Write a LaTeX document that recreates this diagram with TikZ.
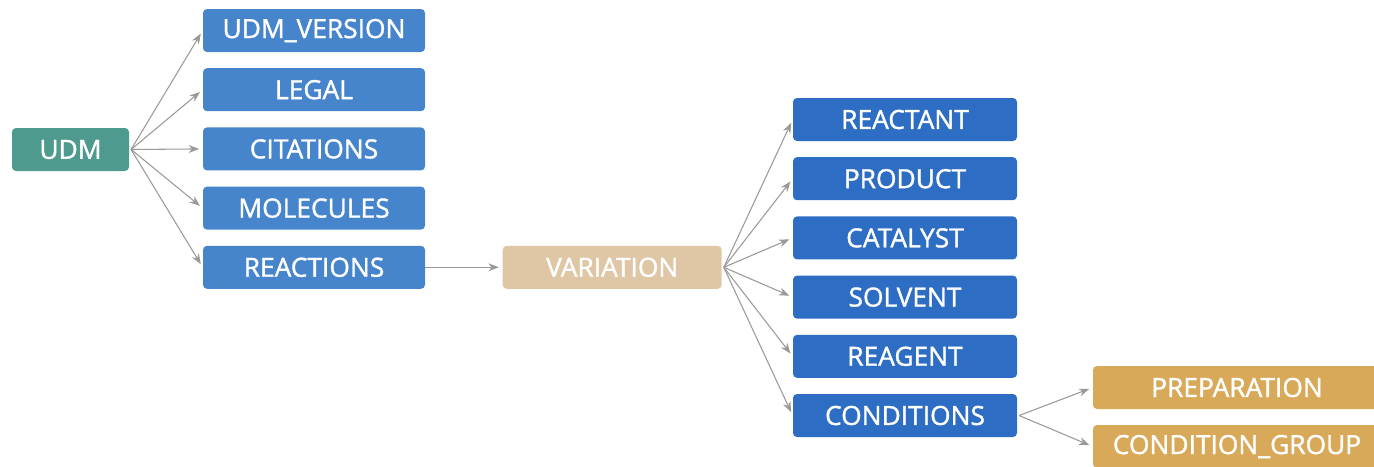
\documentclass[tikz,border=0pt]{standalone}
\usepackage{fontspec}
\setmainfont{Open Sans}
\newfontfamily\boxfont[FakeBold=1.3]{Open Sans}
\usetikzlibrary{arrows.meta, positioning}
\definecolor{udmteal}{RGB}{78,154,142}
\definecolor{fieldblue}{RGB}{70,133,203}
\definecolor{varblue}{RGB}{45,109,195}
\definecolor{vartan}{RGB}{223,199,166}
\definecolor{condgold}{RGB}{217,169,90}
\tikzstyle{box} = [
  rectangle,
  rounded corners=2.3pt,
  minimum height=0.86cm,
  text centered,
  inner sep=0,
  text=white,
  font=\boxfont\fontsize{15}{17}\selectfont
]
\tikzstyle{root} = [
  box,
  minimum width=2.34cm,
  fill=udmteal
]
\tikzstyle{field} = [
  box,
  minimum width=4.44cm,
  fill=fieldblue
]
\tikzstyle{variation} = [
  box,
  minimum width=4.38cm,
  fill=vartan
]
\tikzstyle{part} = [
  box,
  minimum width=4.48cm,
  fill=varblue
]
\tikzstyle{cond} = [
  box,
  minimum width=5.76cm,
  fill=condgold
]
\tikzstyle{arrow} = [
  line width=0.6pt,
  draw=black!40,
  -{Stealth[length=6pt,width=4.5pt]},
  shorten >=2pt
]

\begin{document}
\begin{tikzpicture}[node distance=0.31cm]

    \useasboundingbox (0,0) rectangle (27.48,-9.32);

    \node (udm) [root] at (1.41,-2.99) {UDM};

    \node (version) [field] at (6.28,-0.61) {UDM\_VERSION};
    \node (legal) [field, below=of version] {LEGAL};
    \node (citations) [field, below=of legal] {CITATIONS};
    \node (molecules) [field, below=of citations] {MOLECULES};
    \node (reactions) [field, below=of molecules] {REACTIONS};

    \node (var) [variation, right=1.54cm of reactions] {VARIATION};

    \node (reactant) [part] at (18.10,-2.39) {REACTANT};
    \node (product) [part, below=of reactant] {PRODUCT};
    \node (catalyst) [part, below=of product] {CATALYST};
    \node (solvent) [part, below=of catalyst] {SOLVENT};
    \node (reagent) [part, below=of solvent] {REAGENT};
    \node (conditions) [part, below=of reagent] {CONDITIONS};

    \node (prep) [cond] at (24.74,-7.75) {PREPARATION};
    \node (group) [cond] at (24.74,-8.93) {CONDITION\_GROUP};

    \foreach \t in {version, legal, citations, molecules, reactions}
      \draw [arrow] ([xshift=1pt]udm.east) -- (\t.west);
    \draw [arrow] (reactions) -- (var);
    \foreach \t in {reactant, product, catalyst, solvent, reagent, conditions}
      \draw [arrow] ([xshift=1pt]var.east) -- (\t.west);
    \draw [arrow] ([xshift=1pt]conditions.east) -- (prep.west);
    \draw [arrow] ([xshift=1pt]conditions.east) -- (group.west);

  \end{tikzpicture}
\end{document}
